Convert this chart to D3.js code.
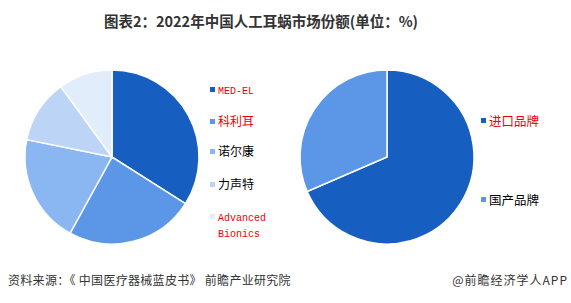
<!DOCTYPE html>
<html>
<head>
<meta charset="utf-8">
<script src="https://cdn.jsdelivr.net/npm/d3@7"></script>
<style>
  body { margin: 0; background: #fff; }
  text { font-family: "Noto Sans CJK SC", "Noto Sans", sans-serif; }
</style>
</head>
<body>
<div id="chart"></div>
<script>
// 2022 cochlear implant market share, two pies
var brands = ["MED-EL", "科利耳", "诺尔康", "力声特", "Advanced Bionics"];
var brandShare = [34, 24, 20.2, 11.8, 10];
var origins = ["进口品牌", "国产品牌"];
var originShare = [68.5, 31.5];

var width = 571, height = 303;
var r = 87;

var svg = d3.select("div#chart").append("svg")
    .attr("width", width)
    .attr("height", height);

svg.append("text")
    .attr("x", 261).attr("y", 27)
    .attr("text-anchor", "middle")
    .attr("font-size", 14.5).attr("font-weight", "bold")
    .attr("fill", "#333")
    .text("图表2：2022年中国人工耳蜗市场份额(单位：%)");

var brandColor = d3.scaleOrdinal().domain(brands)
    .range(["#165fc1", "#5b97e6", "#8ab6f1", "#bcd5f6", "#e1edfb"]);
var originColor = d3.scaleOrdinal().domain(origins)
    .range(["#165fc1", "#5b97e6"]);

var pie = d3.pie().sort(null);
var arc = d3.arc().innerRadius(0).outerRadius(r);

function drawPie(cx, cy, names, vals, color) {
    var g = svg.append("g").attr("transform", "translate(" + cx + "," + cy + ")");
    g.selectAll("path")
        .data(pie(vals))
        .enter().append("path")
        .attr("d", arc)
        .attr("fill", (d, i) => color(names[i]))
        .attr("stroke", "#fff")
        .attr("stroke-width", 1.5);
}

drawPie(112, 157, brands, brandShare, brandColor);
drawPie(387, 157, origins, originShare, originColor);

// legends
var brandLegend = [
    {y: 90, color: "#e00", mono: true},
    {y: 122, color: "#e00", mono: false},
    {y: 152, color: "#000", mono: false},
    {y: 185, color: "#000", mono: false},
    {y: 217, color: "#e00", mono: true}
];
var lg = svg.append("g");
brands.forEach(function(b, i) {
    var s = brandLegend[i];
    lg.append("rect")
        .attr("x", 210).attr("y", s.y - 3)
        .attr("width", 5).attr("height", 5)
        .attr("fill", brandColor(b));
    var t = lg.append("text")
        .attr("x", 218).attr("y", s.y + 4)
        .attr("fill", s.color)
        .attr("font-size", s.mono ? 10 : 12)
        .style("font-family", s.mono ? "'Liberation Mono', monospace" : null);
    if (b == "Advanced Bionics") {
        t.text("Advanced");
        lg.append("text")
            .attr("x", 218).attr("y", s.y + 20)
            .attr("fill", s.color).attr("font-size", 10)
            .style("font-family", "'Liberation Mono', monospace")
            .text("Bionics");
    } else {
        t.text(b);
    }
});

var originLegend = [{y: 121, color: "#e00"}, {y: 200, color: "#000"}];
origins.forEach(function(o, i) {
    svg.append("rect")
        .attr("x", 481).attr("y", originLegend[i].y - 3)
        .attr("width", 5).attr("height", 5)
        .attr("fill", originColor(o));
    svg.append("text")
        .attr("x", 489).attr("y", originLegend[i].y + 5)
        .attr("fill", originLegend[i].color)
        .attr("font-size", 12.5)
        .text(o);
});

svg.append("text")
    .attr("x", 8).attr("y", 285)
    .attr("font-size", 12).attr("fill", "#333")
    .attr("letter-spacing", 0.3)
    .text("资料来源：《 中国医疗器械蓝皮书》 前瞻产业研究院");
svg.append("text")
    .attr("x", 568).attr("y", 285)
    .attr("text-anchor", "end")
    .attr("font-size", 12).attr("fill", "#333")
    .attr("letter-spacing", 1)
    .text("@前瞻经济学人APP");
</script>
</body>
</html>
